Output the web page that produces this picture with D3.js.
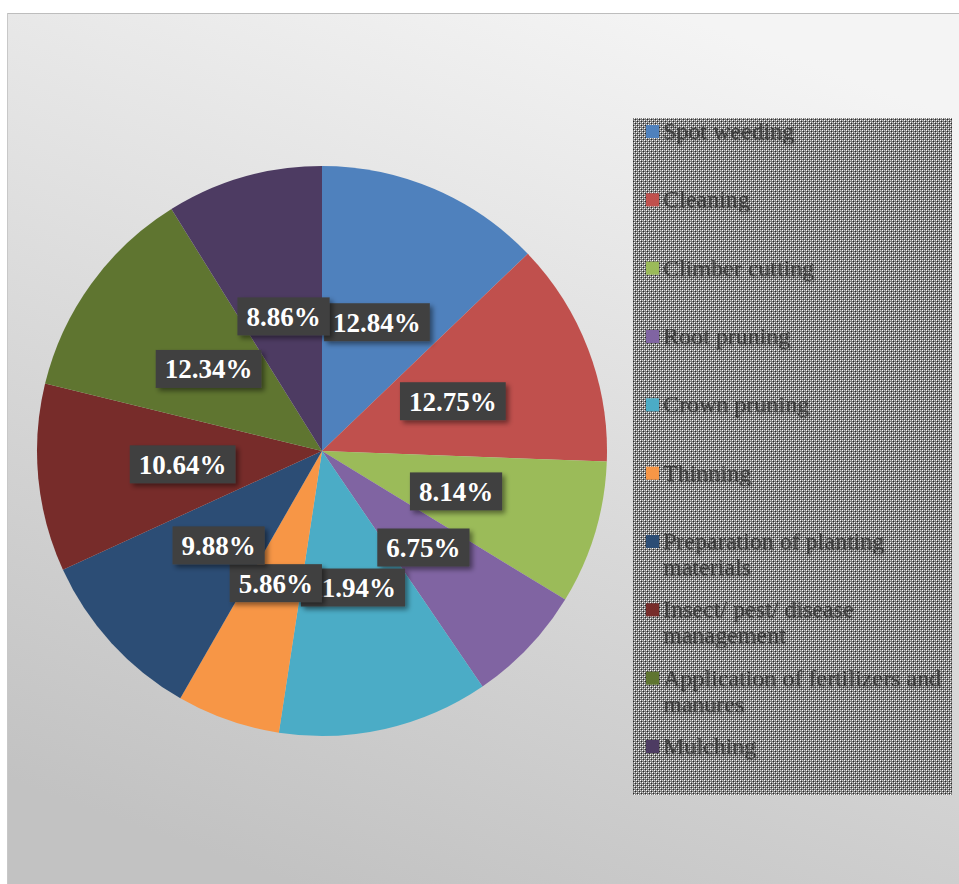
<!DOCTYPE html>
<html>
<head>
<meta charset="utf-8">
<script src="https://cdn.jsdelivr.net/npm/d3@7"></script>
<style>
  html, body { margin: 0; padding: 0; background: #fff; }
  svg { display: block; }
</style>
</head>
<body>
<div id="chart"></div>
<script>
'use strict';

// chart data
const categories = [
    'Spot weeding', 'Cleaning', 'Climber cutting', 'Root pruning', 'Crown pruning',
    'Thinning', 'Preparation of planting materials', 'Insect/ pest/ disease management',
    'Application of fertilizers and manures', 'Mulching'
];
const shares = [12.84, 12.75, 8.14, 6.75, 11.94, 5.86, 9.88, 10.64, 12.34, 8.86];
const legendLines = [
    ['Spot weeding'], ['Cleaning'], ['Climber cutting'], ['Root pruning'], ['Crown pruning'],
    ['Thinning'], ['Preparation of planting', 'materials'], ['Insect/ pest/ disease', 'management'],
    ['Application of fertilizers and', 'manures'], ['Mulching']
];
const colors = ['#4F81BD', '#C0504D', '#9BBB59', '#8064A2', '#4BACC6',
                '#F79646', '#2C4D75', '#772C2A', '#5F7530', '#4D3B62'];

const width = 959, height = 884;
const cx = 322, cy = 451, radius = 285;

const svg = d3.select('#chart').append('svg')
    .attr('width', width)
    .attr('height', height);

const defs = svg.append('defs');

const bg = defs.append('linearGradient')
    .attr('id', 'bg')
    .attr('x1', '0.7').attr('y1', '0')
    .attr('x2', '0.3').attr('y2', '1');
bg.append('stop').attr('offset', '0%').attr('stop-color', '#f4f4f4');
bg.append('stop').attr('offset', '100%').attr('stop-color', '#c2c2c2');

// legend hatch pattern
const pat = defs.append('pattern')
    .attr('id', 'checker')
    .attr('width', 4).attr('height', 4)
    .attr('patternUnits', 'userSpaceOnUse');
pat.append('rect').attr('width', 4).attr('height', 4).attr('fill', '#7c7c7c');
pat.append('rect').attr('x', 0).attr('y', 0).attr('width', 1).attr('height', 1).attr('fill', '#ffffff');
pat.append('rect').attr('x', 2).attr('y', 2).attr('width', 1).attr('height', 1).attr('fill', '#ffffff');
pat.append('rect').attr('x', 2).attr('y', 0).attr('width', 1).attr('height', 1).attr('fill', '#d0d0d0');
pat.append('rect').attr('x', 0).attr('y', 2).attr('width', 1).attr('height', 1).attr('fill', '#d0d0d0');
pat.append('rect').attr('x', 1).attr('y', 1).attr('width', 1).attr('height', 1).attr('fill', '#262626');
pat.append('rect').attr('x', 3).attr('y', 3).attr('width', 1).attr('height', 1).attr('fill', '#262626');

const shadow = defs.append('filter').attr('id', 'shadow')
    .attr('x', '-20%').attr('y', '-30%').attr('width', '150%').attr('height', '180%');
shadow.append('feDropShadow')
    .attr('dx', 3).attr('dy', 3).attr('stdDeviation', 2.5)
    .attr('flood-color', '#000').attr('flood-opacity', 0.45);

const textShadow = defs.append('filter').attr('id', 'tshadow');
textShadow.append('feDropShadow')
    .attr('dx', 1).attr('dy', 1.5).attr('stdDeviation', 1)
    .attr('flood-color', '#000').attr('flood-opacity', 0.35);

// chart area
svg.append('rect')
    .attr('x', 7).attr('y', 13)
    .attr('width', width - 7).attr('height', height - 13)
    .attr('fill', 'url(#bg)');
svg.append('line')
    .attr('x1', 7).attr('y1', 13.5).attr('x2', width).attr('y2', 13.5)
    .attr('stroke', '#bdbdbd').attr('stroke-width', 1);
svg.append('line')
    .attr('x1', 7.5).attr('y1', 13).attr('x2', 7.5).attr('y2', height)
    .attr('stroke', '#c8c8c8').attr('stroke-width', 1);

const data = categories.map((c, i) => ({ name: c, value: shares[i], color: colors[i] }));

const pie = d3.pie().sort(null).value(d => d.value);
const arcs = pie(data);
const arc = d3.arc().innerRadius(0).outerRadius(radius);
const labelArc = d3.arc().innerRadius(140).outerRadius(140);

const g = svg.append('g').attr('transform', `translate(${cx},${cy})`);

g.selectAll('path.slice')
    .data(arcs)
    .join('path')
    .attr('class', 'slice')
    .attr('d', arc)
    .attr('fill', d => d.data.color);

// data labels
const labels = g.selectAll('g.lbl')
    .data(arcs)
    .join('g')
    .attr('class', 'lbl')
    .attr('transform', d => `translate(${labelArc.centroid(d)})`);

labels.each(function (d) {
    const sel = d3.select(this);
    const txt = d.data.value.toFixed(2) + '%';
    const box = sel.append('rect')
        .attr('fill', '#404040')
        .attr('filter', 'url(#shadow)');
    const t = sel.append('text')
        .attr('text-anchor', 'middle')
        .attr('dy', '0.35em')
        .attr('font-family', '"Liberation Serif", "Times New Roman", serif')
        .attr('font-weight', 'bold')
        .attr('font-size', 27)
        .attr('fill', '#ffffff')
        .text(txt);
    const w = t.node().getComputedTextLength() + 18;
    box.attr('x', -w / 2).attr('y', -19)
        .attr('width', w).attr('height', 38);
});

// legend
const lx = 633, ly = 118, lw = 319, lh = 677;
svg.append('rect')
    .attr('x', lx).attr('y', ly)
    .attr('width', lw).attr('height', lh)
    .attr('fill', 'url(#checker)');

const rowY = d3.scaleLinear().domain([0, categories.length - 1]).range([131, 746]);

const items = svg.selectAll('g.leg')
    .data(data)
    .join('g')
    .attr('class', 'leg')
    .attr('transform', (d, i) => `translate(${lx}, ${rowY(i)})`);

items.append('rect')
    .attr('x', 13).attr('y', -6)
    .attr('width', 13).attr('height', 13)
    .attr('fill', d => d.color);

items.append('text')
    .attr('x', 30)
    .attr('font-family', '"Liberation Serif", "Times New Roman", serif')
    .attr('font-size', 24)
    .attr('fill', '#3f3f3f')
    .attr('filter', 'url(#tshadow)')
    .each(function (d, i) {
        const t = d3.select(this);
        legendLines[i].forEach((line, k) => {
            t.append('tspan')
                .attr('x', 30)
                .attr('y', 8 + k * 26)
                .text(line);
        });
    });
</script>
</body>
</html>
